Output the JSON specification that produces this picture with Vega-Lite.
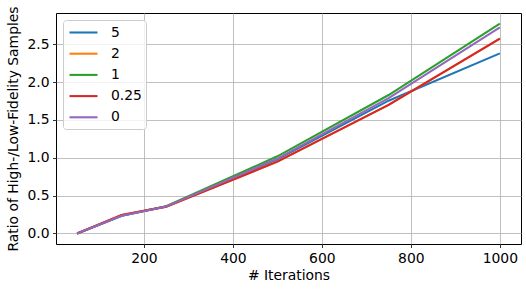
{
  "$schema": "https://vega.github.io/schema/vega-lite/v6.json",
  "width": 465,
  "height": 231,
  "autosize": "none",
  "padding": {"left": 56, "top": 13, "right": 5, "bottom": 48},
  "background": "white",
  "config": {
    "font": "DejaVu Sans",
    "view": {"stroke": "black", "strokeWidth": 1},
    "axis": {
      "labelFont": "DejaVu Sans",
      "labelFontSize": 13.9,
      "labelColor": "black",
      "titleFont": "DejaVu Sans",
      "titleFontSize": 13.9,
      "titleFontWeight": "normal",
      "titleColor": "black",
      "tickColor": "black",
      "tickSize": 3.5,
      "tickWidth": 0.8,
      "labelPadding": 3.5,
      "domain": false,
      "grid": true,
      "gridColor": "#b0b0b0",
      "gridWidth": 0.8
    }
  },
  "data": {
    "values": [
      {"iter": 50, "ratio": 0.0, "beta": "5"},
      {"iter": 150, "ratio": 0.235, "beta": "5"},
      {"iter": 250, "ratio": 0.355, "beta": "5"},
      {"iter": 500, "ratio": 0.98, "beta": "5"},
      {"iter": 750, "ratio": 1.755, "beta": "5"},
      {"iter": 1000, "ratio": 2.38, "beta": "5"},
      {"iter": 50, "ratio": 0.0, "beta": "2"},
      {"iter": 150, "ratio": 0.245, "beta": "2"},
      {"iter": 250, "ratio": 0.355, "beta": "2"},
      {"iter": 500, "ratio": 0.95, "beta": "2"},
      {"iter": 750, "ratio": 1.70, "beta": "2"},
      {"iter": 1000, "ratio": 2.575, "beta": "2"},
      {"iter": 50, "ratio": 0.0, "beta": "1"},
      {"iter": 150, "ratio": 0.235, "beta": "1"},
      {"iter": 250, "ratio": 0.36, "beta": "1"},
      {"iter": 500, "ratio": 1.02, "beta": "1"},
      {"iter": 750, "ratio": 1.83, "beta": "1"},
      {"iter": 1000, "ratio": 2.775, "beta": "1"},
      {"iter": 50, "ratio": 0.0, "beta": "0.25"},
      {"iter": 150, "ratio": 0.245, "beta": "0.25"},
      {"iter": 250, "ratio": 0.355, "beta": "0.25"},
      {"iter": 500, "ratio": 0.95, "beta": "0.25"},
      {"iter": 750, "ratio": 1.70, "beta": "0.25"},
      {"iter": 1000, "ratio": 2.576, "beta": "0.25"},
      {"iter": 50, "ratio": 0.0, "beta": "0"},
      {"iter": 150, "ratio": 0.235, "beta": "0"},
      {"iter": 250, "ratio": 0.355, "beta": "0"},
      {"iter": 500, "ratio": 0.99, "beta": "0"},
      {"iter": 750, "ratio": 1.79, "beta": "0"},
      {"iter": 1000, "ratio": 2.725, "beta": "0"}
    ]
  },
  "mark": {"type": "line", "strokeWidth": 2.08, "clip": true},
  "encoding": {
    "x": {
      "field": "iter",
      "type": "quantitative",
      "title": "# Iterations",
      "scale": {"domain": [2.5, 1047.5], "nice": false, "zero": false},
      "axis": {"values": [200, 400, 600, 800, 1000], "format": "d", "titlePadding": 4}
    },
    "y": {
      "field": "ratio",
      "type": "quantitative",
      "title": "Ratio of High-/Low-Fidelity Samples",
      "scale": {"domain": [-0.139, 2.914], "nice": false, "zero": false},
      "axis": {"values": [0, 0.5, 1, 1.5, 2, 2.5], "format": ".1f", "titlePadding": 6}
    },
    "color": {
      "field": "beta",
      "type": "nominal",
      "sort": ["5", "2", "1", "0.25", "0"],
      "scale": {
        "domain": ["5", "2", "1", "0.25", "0"],
        "range": ["#1f77b4", "#ff7f0e", "#2ca02c", "#d62728", "#9467bd"]
      },
      "legend": {
        "title": null,
        "orient": "top-left",
        "offset": 7,
        "padding": 4,
        "fillColor": "rgba(255,255,255,0.8)",
        "strokeColor": "#cccccc",
        "cornerRadius": 3,
        "symbolType": "M-2,0H2",
        "symbolSize": 196,
        "symbolOffset": 8,
        "symbolStrokeWidth": 2.08,
        "labelFont": "DejaVu Sans",
        "labelFontSize": 13.9,
        "labelColor": "black",
        "labelOffset": 19,
        "rowPadding": 5.2
      }
    },
    "order": {"field": "iter", "type": "quantitative"}
  }
}
